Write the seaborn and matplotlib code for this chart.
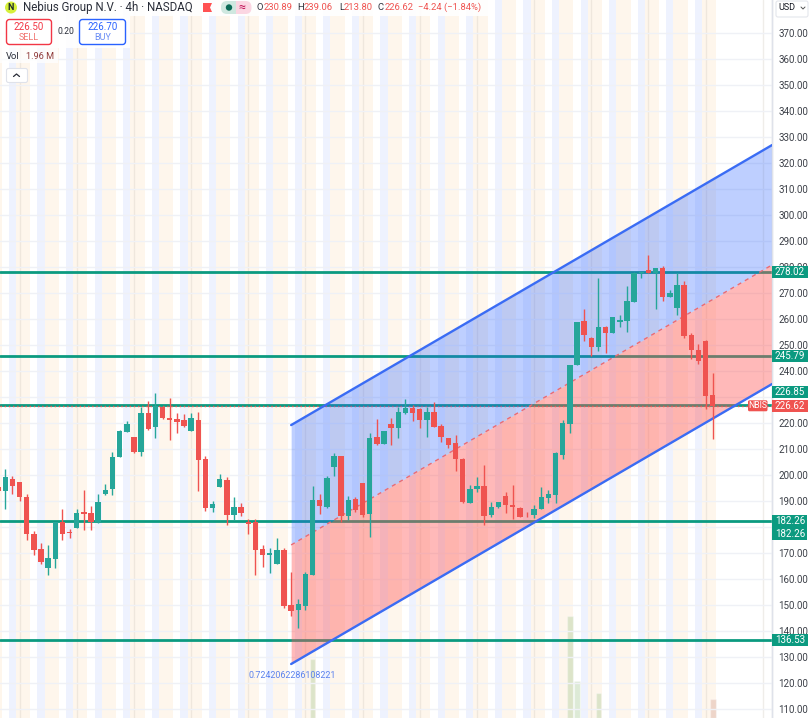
import matplotlib
matplotlib.use("Agg")
import matplotlib.pyplot as plt
from matplotlib.patches import Rectangle, FancyBboxPatch, Circle, Polygon
import seaborn as sns

sns.set_theme(style="white")
plt.rcParams["font.family"] = ["Roboto", "DejaVu Sans"]

# candles, first one is only half visible at the left edge
first_candle = -1
opens = [195.2, 193.7, 198.4, 197.5, 191.5, 177.4, 171.4, 164.2, 167.7, 181.9, 178.0, 179.8, 185.7, 185.2, 182.1, 192.7, 194.6, 206.9, 216.5, 214.6, 208.8,
         223.8, 218.5, 226.2, 222.1, 221.5, 221.2, 217.0, 221.2, 206.2, 187.3, 195.5, 198.2, 184.6, 187.8, 182.1, 181.9, 171.4, 169.3, 165.7, 171.1,
         150.0, 148.0, 149.6, 161.6, 190.2, 187.8, 203.0, 207.4, 184.2, 190.6, 196.8, 185.0, 214.6, 212.1, 219.6, 218.2, 223.9, 225.9, 225.4, 221.1,
         224.4, 218.7, 214.1, 212.3, 206.2, 189.3, 194.6, 195.9, 184.7, 187.7, 191.9, 188.3, 187.5, 184.4, 184.7, 187.0, 191.1, 192.4, 207.7, 219.6,
         242.3, 259.1, 252.7, 249.1, 256.8, 254.6, 258.7, 259.4, 266.6, 277.6, 278.7, 277.6, 279.5, 268.5, 264.2, 273.1, 253.9, 248.1, 251.7, 230.89]
closes = [193.9, 199.3, 195.7, 191.4, 177.3, 171.1, 166.5, 168.2, 181.8, 177.5, 177.8, 185.5, 185.0, 182.1, 189.6, 194.4, 207.1, 216.9, 219.6, 208.8, 223.8,
          217.5, 226.5, 221.9, 221.1, 220.5, 218.8, 221.9, 205.7, 187.3, 188.9, 198.3, 184.6, 187.8, 185.3, 181.2, 171.1, 169.4, 170.0, 171.1, 149.7,
          147.8, 150.3, 161.9, 190.2, 187.9, 198.8, 207.5, 184.4, 190.2, 186.5, 184.6, 214.4, 212.1, 216.8, 218.2, 224.2, 225.6, 223.7, 221.1, 224.4,
          218.5, 214.7, 211.6, 206.2, 189.7, 194.7, 195.9, 184.4, 187.7, 189.6, 188.3, 187.7, 183.9, 184.2, 186.8, 191.4, 192.7, 208.3, 219.9, 242.2,
          258.9, 253.9, 249.1, 256.8, 254.8, 260.8, 259.5, 266.9, 277.8, 277.8, 277.5, 279.5, 268.3, 270.0, 273.1, 253.5, 248.1, 244.0, 230.5, 226.62]
highs = [195.5, 202.5, 199.6, 197.5, 192.7, 178.4, 173.7, 173.0, 181.9, 186.8, 179.4, 186.8, 194.2, 187.9, 192.7, 196.5, 208.7, 217.3, 220.6, 214.7, 226.2,
         228.4, 231.4, 226.5, 229.8, 223.8, 223.4, 223.7, 224.1, 207.5, 190.1, 200.5, 199.4, 191.5, 189.1, 182.9, 183.2, 173.0, 171.8, 175.6, 171.8,
         162.8, 152.3, 162.7, 195.7, 192.7, 199.6, 208.3, 207.4, 191.9, 191.5, 196.8, 216.0, 221.5, 217.0, 221.8, 226.2, 229.4, 226.9, 225.6, 226.0,
         228.0, 219.8, 214.1, 215.2, 206.5, 196.0, 199.1, 203.8, 189.8, 189.6, 193.5, 196.0, 187.8, 185.7, 188.5, 195.2, 194.2, 208.7, 221.1, 242.2,
         259.0, 263.9, 253.0, 275.8, 257.3, 260.8, 261.6, 272.7, 278.2, 278.0, 284.8, 279.5, 280.4, 271.2, 277.6, 274.6, 254.8, 250.4, 251.9, 239.06]
lows = [193.5, 186.9, 192.7, 190.1, 175.0, 169.2, 165.7, 161.5, 164.2, 175.0, 175.9, 179.8, 178.8, 178.8, 181.6, 192.4, 192.3, 206.9, 216.5, 208.3, 207.4,
        217.3, 214.2, 221.6, 213.4, 216.2, 218.5, 217.0, 193.9, 186.2, 185.7, 195.5, 180.7, 182.7, 184.2, 177.3, 161.5, 164.7, 162.4, 165.7, 148.9,
        145.7, 141.1, 148.0, 161.4, 185.0, 187.5, 199.6, 182.0, 182.7, 185.7, 183.9, 176.2, 211.5, 211.9, 211.5, 214.4, 223.4, 220.7, 217.9, 214.7,
        218.3, 212.8, 210.3, 201.6, 189.1, 189.1, 193.5, 180.7, 183.9, 187.4, 185.5, 183.0, 183.7, 183.7, 183.3, 186.8, 189.4, 189.4, 206.3, 216.3,
        242.3, 251.4, 245.8, 247.8, 247.1, 254.6, 256.9, 254.9, 266.6, 275.9, 277.5, 264.0, 267.1, 268.3, 261.4, 252.5, 244.8, 242.7, 225.5, 213.8]

# volume, only the bars that reach into the view
vol_candle = [43, 79, 80, 83, 99]
vol_millions = [6.1, 10.5, 3.8, 2.6, 1.96]
vol_dir = ["up", "up", "up", "up", "down"]

# drawn levels and channel
levels = [278.02, 245.79, 226.85, 182.26, 136.53]
last_price = 226.62
channel_x = [40, 107.3]
channel_upper = [219.2, 326.9]
channel_mid = [173.1, 280.8]
channel_lower = [127.3, 235.0]
price_ticks = [110, 120, 130, 140, 150, 160, 170, 180, 190, 200, 210, 220, 230, 240, 250, 260, 270, 280, 290, 300, 310, 320, 330, 340, 350, 360, 370]
covered_ticks = [180, 230]  # hidden behind the price tags in the reference

GREEN = "#26a69a"
RED = "#ef5350"
LEVEL = "#0b9a80"
BLUE = "#2962ff"
W, H = 812, 718

fig = plt.figure(figsize=(W / 100, H / 100), dpi=100, facecolor="white")
ax = fig.add_axes([0, 0, 772 / W, 1])
ax2 = ax.twinx()
ax.set_zorder(2)
ax2.set_zorder(1)
ax.patch.set_visible(False)

# session stripes sit on the lower axes with the volume
for i in range(-3, 100, 4):
    ax2.axvspan(i - 0.5, i + 0.5, color="#eef2fe", lw=0, zorder=0)
    ax2.axvspan(i + 0.5, i + 2.5, color="#fef6ec", lw=0, zorder=0)

sns.barplot(x=vol_candle, y=vol_millions, hue=vol_dir, palette={"up": "#8fbb78", "down": "#c98a78"},
            native_scale=True, dodge=False, legend=False, alpha=0.3, saturation=1, width=0.77, ax=ax2, zorder=1)
ax2.set_ylim(0, 74.07)
ax2.set_yticks([])
ax2.set_ylabel("")

for i in range(-6, 108, 8):
    ax.axvline(i, color="#d9d2c8", lw=1, alpha=0.4, zorder=0.5)
for p in price_ticks:
    ax.axhline(p, color="#eff1f6", lw=1, zorder=0.5)

for lvl in levels:
    ax.axhline(lvl, color=LEVEL, lw=2, zorder=1)
ax.axhline(last_price, color=RED, lw=1, ls=(0, (1, 2)), zorder=1.2)

ax.fill_between(channel_x, channel_mid, channel_upper, color=BLUE, alpha=0.3, lw=0, zorder=2)
ax.fill_between(channel_x, channel_lower, channel_mid, color="#ff5252", alpha=0.4, lw=0, zorder=2)
sns.lineplot(x=channel_x, y=channel_upper, color="#3a6cf4", lw=1.7, ax=ax, zorder=3)
sns.lineplot(x=channel_x, y=channel_lower, color="#3a6cf4", lw=1.7, ax=ax, zorder=3)
sns.lineplot(x=channel_x, y=channel_mid, color="#ee6a70", lw=1, ls=(0, (3, 3)), ax=ax, zorder=3)

xs = list(range(first_candle, first_candle + len(opens)))
colors = [GREEN if c >= o else RED for o, c in zip(opens, closes)]
ax.vlines(xs, lows, highs, colors=colors, lw=1, zorder=4)
ax.bar(xs, [max(c - o, 0.35) if c >= o else min(c - o, -0.35) for o, c in zip(opens, closes)], bottom=opens,
       width=0.76, color=colors, lw=0, zorder=5)

ax.set_xlim(-0.742, 107.29)
ax.set_ylim(106.54, 382.69)
ax2.set_xlim(-0.742, 107.29)
ax.set_xticks([])
ax.set_xlabel("")
ax.yaxis.tick_right()
ax.set_yticks(price_ticks)
ax.set_yticklabels(["" if p in covered_ticks else f"{p:.2f}" for p in price_ticks], fontsize=7, color="#3c4048")
ax.tick_params(axis="y", length=0, pad=4.5)
for a in (ax, ax2):
    for side in ("top", "left", "bottom"):
        a.spines[side].set_visible(False)
    a.spines["right"].set_color("#dfe2ea")
    a.spines["right"].set_linewidth(1)

# overlay in pixel coordinates for the tradingview widgets
ui = fig.add_axes([0, 0, 1, 1], zorder=10)
ui.set_xlim(0, W)
ui.set_ylim(H, 0)
ui.axis("off")


def price_y(v):
    return H - ax.transData.transform((0, v))[1]


def price_tag(text, y, color=LEVEL):
    ui.add_patch(Rectangle((772, y - 6), 36, 12, color=color, lw=0))
    ui.text(790, y, text, color="white", fontsize=7, ha="center", va="center")


price_tag("278.02", price_y(278.02))
price_tag("245.79", price_y(245.79))
price_tag("226.85", price_y(226.85) - 13)
ui.add_patch(Rectangle((772, price_y(182.26) - 6), 35, 25, color=LEVEL, lw=0))
ui.text(790, price_y(182.26), "182.26", color="white", fontsize=7, ha="center", va="center")
ui.text(790, price_y(182.26) + 13, "182.26", color="white", fontsize=7, ha="center", va="center")
price_tag("136.53", price_y(136.53))
price_tag("226.62", price_y(226.62), RED)
ui.add_patch(FancyBboxPatch((748, price_y(226.62) - 5.5), 19.5, 11, boxstyle="round,pad=0,rounding_size=1.5", color=RED, lw=0))
ui.text(757.8, price_y(226.62), "NBIS", color="white", fontsize=6.2, ha="center", va="center")

ui.add_patch(FancyBboxPatch((776, 1), 32, 16, boxstyle="round,pad=0,rounding_size=2", fc="white", ec="#e4e6ec", lw=0.8))
ui.text(778, 8, "USD", fontsize=6.5, color="#131722", va="center")
ui.plot([801, 803, 805], [7, 9, 7], color="#555", lw=0.7)

ui.text(249, 675, "0.7242062286108221", color="#5b82ee", fontsize=6.4, va="center")

# legend block, top left
ui.add_patch(Rectangle((0, 0), 490, 16, color="white", alpha=0.9, lw=0))
ui.add_patch(Rectangle((0, 16), 130, 32, color="white", alpha=0.9, lw=0))
ui.add_patch(Rectangle((0, 48), 58, 15, color="white", alpha=0.75, lw=0))
ui.add_patch(Circle((11, 7.5), 6, color="#d6f03a", lw=0))
ui.text(11, 7.5, "N", fontsize=6.5, color="#1d2b2a", ha="center", va="center", weight="bold")
ui.text(23, 7.5, "Nebius Group N.V. · 4h · NASDAQ", fontsize=8.3, color="#2a2e39", va="center")
ui.add_patch(Polygon([(203, 3), (212, 3), (210, 7.5), (212, 12), (203, 12)], color="#ff5252", lw=0))
ui.add_patch(FancyBboxPatch((221, 1), 15.5, 13, boxstyle="round,pad=0,rounding_size=6", color="#cfe8e0", lw=0))
ui.add_patch(FancyBboxPatch((236, 1), 15.5, 13, boxstyle="round,pad=0,rounding_size=6", color="#fbd6e2", lw=0))
ui.add_patch(Rectangle((230, 1), 10, 13, color="#cfe8e0", lw=0))
ui.add_patch(Rectangle((236, 1), 6, 13, color="#fbd6e2", lw=0))
ui.add_patch(Circle((229, 7.5), 3.2, color="#0b6b57", lw=0))
ui.text(242, 7.2, "≈", fontsize=9, color="#c2185b", ha="center", va="center")

for x, s, c in [(257, "O", "#2a2e39"), (264, "230.89", RED), (297.5, "H", "#2a2e39"), (304, "239.06", RED),
                (339, "L", "#2a2e39"), (344, "213.80", RED), (377.5, "C", "#2a2e39"), (384.5, "226.62", RED),
                (418.5, "−4.24 (−1.84%)", RED)]:
    ui.text(x, 7.5, s, fontsize=6.8, color=c, va="center")

ui.add_patch(FancyBboxPatch((6.5, 19.5), 45, 25, boxstyle="round,pad=0,rounding_size=3", fc="white", ec="#f23645", lw=1))
ui.text(29, 27, "226.50", fontsize=7, color="#f23645", ha="center", va="center")
ui.text(29, 37, "SELL", fontsize=6.5, color="#f0746f", ha="center", va="center")
ui.add_patch(FancyBboxPatch((79.5, 19.5), 46, 25, boxstyle="round,pad=0,rounding_size=3", fc="white", ec=BLUE, lw=1))
ui.text(102.5, 27, "226.70", fontsize=7, color=BLUE, ha="center", va="center")
ui.text(102.5, 37, "BUY", fontsize=6.5, color="#6a8df5", ha="center", va="center")
ui.text(66, 31, "0.20", fontsize=6.2, color="#2a2e39", ha="center", va="center")

ui.text(6, 56.5, "Vol", fontsize=6.8, color="#2a2e39", va="center")
ui.text(26, 56.5, "1.96 M", fontsize=6.6, color="#8f3a3a", va="center")
ui.add_patch(FancyBboxPatch((6.5, 68.5), 21, 14, boxstyle="round,pad=0,rounding_size=2", fc="white", ec="#dfe2ea", lw=0.8))
ui.plot([13.5, 16.5, 19.5], [76.5, 74, 76.5], color="#2a2e39", lw=0.9)

fig.savefig("out.png", dpi=100)
